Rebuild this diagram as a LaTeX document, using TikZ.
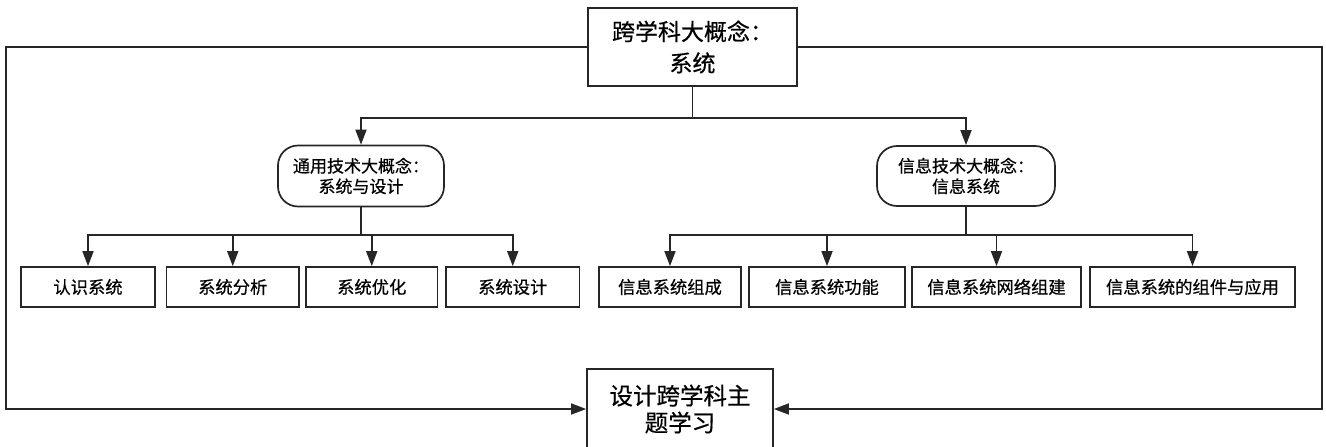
\documentclass[tikz,border=0pt]{standalone}
\usepackage{fontspec}
\newfontfamily\cjk[FakeBold=0.5]{Noto Sans CJK SC}
\usetikzlibrary{arrows.meta}
\begin{document}
\begin{tikzpicture}[x=1pt,y=-1pt,
  line/.style={draw=black!85, line width=1.7pt},
  arr/.style={line, -{Triangle[length=15pt,width=11pt]}},
  boxbase/.style={draw=black!85, line width=1.7pt, fill=white, inner sep=0pt, align=center},
  bigbox/.style={boxbase, font=\cjk\fontsize{23}{31.5}\selectfont},
  midbox/.style={boxbase, rounded corners=20pt, font=\cjk\fontsize{17}{20.5}\selectfont},
  leaf/.style={boxbase, minimum height=40pt, font=\cjk\fontsize{17.3}{20}\selectfont}]
\useasboundingbox (0,0) rectangle (1326,447);
% main boxes
\node[bigbox, minimum width=209pt, minimum height=78pt] (top) at (692.5,47) {跨学科大概念：\\系统};
\node[midbox, minimum width=166pt, minimum height=61pt] (lm) at (361,176) {通用技术大概念：\\系统与设计};
\node[midbox, minimum width=178pt, minimum height=60pt] (rm) at (966,176) {信息技术大概念：\\信息系统};
% leaves
\node[leaf, minimum width=134pt] (c1) at (88,287) {认识系统};
\node[leaf, minimum width=132.5pt] (c2) at (232.75,287) {系统分析};
\node[leaf, minimum width=131.5pt] (c3) at (371.75,287) {系统优化};
\node[leaf, minimum width=133.5pt] (c4) at (512.75,287) {系统设计};
\node[leaf, minimum width=142pt] (d1) at (670,287) {信息系统组成};
\node[leaf, minimum width=156pt] (d2) at (827,287) {信息系统功能};
\node[leaf, minimum width=169pt] (d3) at (996.5,287) {信息系统网络组建};
\node[leaf, minimum width=205pt] (d4) at (1192.5,287) {信息系统的组件与应用};
% bottom
\node[bigbox, minimum width=186pt, minimum height=80pt, font=\cjk\fontsize{23.5}{27}\selectfont] (bot) at (680,409) {设计跨学科主\\题学习};
% connectors
\coordinate (tb) at (692.5,118);
\draw[line] (top.south) -- (tb);
\draw[arr] (tb) -| (lm.north);
\draw[arr] (tb) -| (rm.north);
\coordinate (lb) at (361,235);
\draw[line] (lm.south) -- (lb);
\foreach \n in {c1,c2,c3,c4} \draw[arr] (lb) -| (\n.north);
\coordinate (rb) at (966,235);
\draw[line] (rm.south) -- (rb);
\foreach \n in {d1,d2,d3,d4} \draw[arr] (rb) -| (\n.north);
% outer loop
\coordinate (ol) at (6,0);
\coordinate (or) at (1322,0);
\draw[arr] (top.west) -- (ol |- top.west) -- (ol |- bot.west) -- (bot.west);
\draw[arr] (top.east) -- (or |- top.east) -- (or |- bot.east) -- (bot.east);
\end{tikzpicture}
\end{document}
